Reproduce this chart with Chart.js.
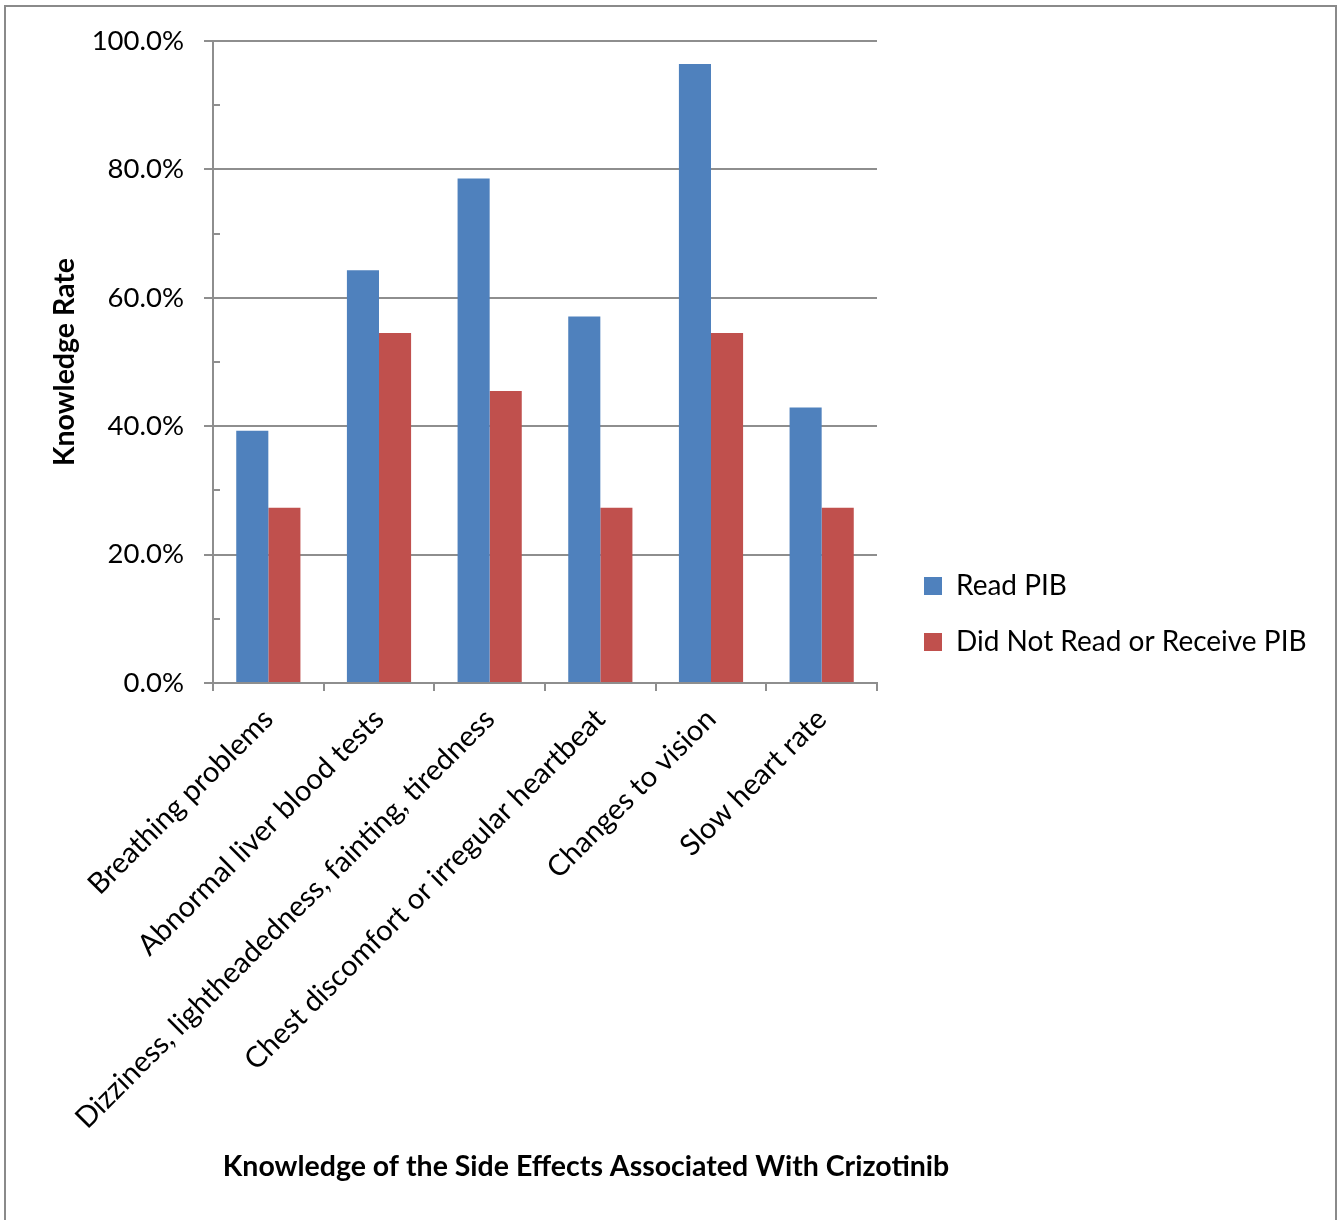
<!DOCTYPE html>
<html>
<head>
<meta charset="utf-8">
<script src="https://cdn.jsdelivr.net/npm/chart.js@4"></script>
<style>
  html, body { margin: 0; padding: 0; background: #fff; }
  #wrap { width: 1337px; height: 1220px; position: relative; }
</style>
</head>
<body>
<div id="wrap"><canvas id="c" width="1337" height="1220"></canvas></div>
<script>
const categories = [
  "Breathing problems",
  "Abnormal liver blood tests",
  "Dizziness, lightheadedness, fainting, tiredness",
  "Chest discomfort or irregular heartbeat",
  "Changes to vision",
  "Slow heart rate"
];
const readPIB = [39.3, 64.3, 78.6, 57.1, 96.4, 42.9];
const notReadPIB = [27.3, 54.5, 45.5, 27.3, 54.5, 27.3];
const seriesLabels = ["Read PIB", "Did Not Read or Receive PIB"];
const yTicks = [0, 20, 40, 60, 80, 100];
const yMinorTicks = [10, 30, 50, 70, 90];
const xTitle = "Knowledge of the Side Effects Associated With Crizotinib";
const yTitle = "Knowledge Rate";

const GRID = '#8e8e8e';
const FONT = 'Lato, "Open Sans", sans-serif';

const helperPlugin = {
  id: 'helper',
  afterLayout(chart) {
    const lg = chart.legend;
    if (lg) {
      const w = lg.width, h = lg.height;
      lg.left = 896; lg.top = 544;
      lg.right = lg.left + w; lg.bottom = lg.top + h;
    }
  },
  beforeDraw(chart) {
    const ctx = chart.ctx;
    ctx.save();
    ctx.fillStyle = '#fff';
    ctx.fillRect(0, 0, chart.width, chart.height);
    ctx.strokeStyle = '#8a8a8a';
    ctx.lineWidth = 2;
    ctx.strokeRect(5, 6, 1331, 1230);
    ctx.restore();
    const xs = chart.scales.x;
    if (xs && !xs._patched) {
      const orig = xs.drawTitle.bind(xs);
      xs.drawTitle = function() {
        const l = this.left, r = this.right;
        this.left = 586 - 500; this.right = 586 + 500;
        orig();
        this.left = l; this.right = r;
      };
      xs._patched = true;
    }
  },
  afterDraw(chart) {
    const ys = chart.scales.y;
    const ctx = chart.ctx;
    ctx.save();
    ctx.strokeStyle = GRID;
    ctx.lineWidth = 2;
    yMinorTicks.forEach(v => {
      const y = Math.round(ys.getPixelForValue(v));
      ctx.beginPath();
      ctx.moveTo(ys.right, y);
      ctx.lineTo(ys.right + 7, y);
      ctx.stroke();
    });
    ctx.restore();
  }
};

new Chart(document.getElementById('c'), {
  type: 'bar',
  data: {
    labels: categories,
    datasets: [
      { label: seriesLabels[0], data: readPIB, backgroundColor: '#4F81BD', borderWidth: 0 },
      { label: seriesLabels[1], data: notReadPIB, backgroundColor: '#C0504D', borderWidth: 0 }
    ]
  },
  options: {
    responsive: false,
    animation: false,
    devicePixelRatio: 1,
    layout: { padding: { left: 0, top: 41, right: 460, bottom: 0 } },
    datasets: { bar: { barPercentage: 1.0, categoryPercentage: 0.58 } },
    plugins: {
      tooltip: { enabled: false },
      legend: {
        position: 'chartArea',
        align: 'start',
        labels: {
          boxWidth: 18, boxHeight: 18, padding: 28,
          color: '#000',
          font: { family: FONT, size: 28 }
        }
      }
    },
    scales: {
      x: {
        grid: { offset: true, drawOnChartArea: false, drawTicks: true, tickLength: 8, color: GRID, lineWidth: 2 },
        border: { display: true, color: GRID, width: 2 },
        ticks: {
          autoSkip: false, maxRotation: 45, minRotation: 45, padding: 11,
          color: '#000', font: { family: FONT, size: 29 }
        },
        title: {
          display: true, text: xTitle, color: '#000',
          font: { family: FONT, size: 28.5, weight: 'bold' },
          padding: { top: 10, bottom: 35.9 }
        },
        afterFit(scale) { scale.height = 537; }
      },
      y: {
        min: 0, max: 100,
        afterBuildTicks(scale) { scale.ticks = yTicks.map(v => ({ value: v })); },
        grid: { color: GRID, lineWidth: 2, tickLength: 9, drawTicks: true },
        border: { display: true, color: GRID, width: 2 },
        ticks: {
          padding: 20, color: '#000', font: { family: FONT, size: 27.5 },
          callback: v => Number(v).toFixed(1) + '%'
        },
        title: {
          display: true, text: yTitle, color: '#000',
          font: { family: FONT, size: 28.5, weight: 'bold' },
          padding: { top: 47.9, bottom: 0 }
        },
        afterFit(scale) { scale.width = 213; }
      }
    }
  },
  plugins: [helperPlugin]
});
</script>
</body>
</html>
